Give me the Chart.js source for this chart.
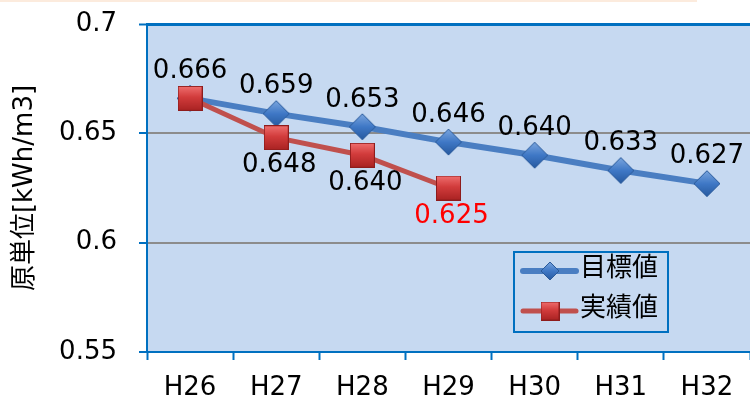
<!DOCTYPE html>
<html>
<head>
<meta charset="utf-8">
<script src="https://cdn.jsdelivr.net/npm/chart.js@4/dist/chart.umd.min.js"></script>
<style>
  body { margin: 0; background: #fff; overflow: hidden; }
  #wrap { position: relative; width: 760px; height: 405px; }
  #topline { position: absolute; left: 0; top: 0; width: 697px; height: 2px; background: #fcebdd; }
</style>
</head>
<body>
<div id="wrap">
  <div id="topline"></div>
  <canvas id="chart"></canvas>
</div>
<script>
const years = ["H26", "H27", "H28", "H29", "H30", "H31", "H32"];
const targetValues = [0.666, 0.659, 0.653, 0.646, 0.640, 0.633, 0.627];
const actualValues = [0.666, 0.648, 0.640, 0.625];
const yTicks = [0.55, 0.6, 0.65, 0.7];
const seriesNames = ["目標値", "実績値"];
const yTitle = "原単位[kWh/m3]";

const BLUE_AXIS = "#0070c0";
const PLOT_BG = "#c6d9f1";
const NUM_FONT = '"DejaVu Sans", sans-serif';
const JP_FONT = '"DejaVu Sans", "Noto Sans CJK JP", sans-serif';

// marker images (gradient like the office chart)
function diamondImg(r) {
  const c = document.createElement("canvas");
  c.width = c.height = r * 2 + 2;
  const g = c.getContext("2d");
  const m = r + 1;
  const grad = g.createLinearGradient(0, 0, 0, c.height);
  grad.addColorStop(0, "#7fa9e0");
  grad.addColorStop(0.5, "#3f78c6");
  grad.addColorStop(1, "#25579c");
  g.beginPath();
  g.moveTo(m, m - r); g.lineTo(m + r, m); g.lineTo(m, m + r); g.lineTo(m - r, m);
  g.closePath();
  g.fillStyle = grad; g.fill();
  g.strokeStyle = "#2a5a9a"; g.lineWidth = 1; g.stroke();
  return c;
}
function squareImg(s) {
  const c = document.createElement("canvas");
  c.width = c.height = s;
  const g = c.getContext("2d");
  const grad = g.createLinearGradient(0, 0, 0, s);
  grad.addColorStop(0, "#f07070");
  grad.addColorStop(0.45, "#d23c3c");
  grad.addColorStop(1, "#a82222");
  g.fillStyle = grad;
  g.fillRect(0, 0, s, s);
  g.strokeStyle = "#8e1c1c"; g.lineWidth = 1;
  g.strokeRect(0.5, 0.5, s - 1, s - 1);
  return c;
}
const diamond = diamondImg(13);
const square = squareImg(25);
const diamondSmall = diamondImg(9);
const squareSmall = squareImg(19);

const bgPlugin = {
  id: "plotBg",
  beforeDraw(chart) {
    const a = chart.chartArea, ctx = chart.ctx;
    ctx.save();
    ctx.fillStyle = PLOT_BG;
    ctx.fillRect(a.left, a.top, a.right - a.left, a.bottom - a.top);
    ctx.restore();
  }
};

const labelPlugin = {
  id: "valueLabels",
  afterDatasetsDraw(chart) {
    const ctx = chart.ctx;
    ctx.save();
    ctx.font = "26px " + NUM_FONT;
    ctx.textAlign = "center";
    ctx.textBaseline = "middle";
    chart.data.datasets.forEach((ds, di) => {
      const meta = chart.getDatasetMeta(di);
      meta.data.forEach((pt, i) => {
        const v = ds.data[i];
        if (ds.labelBelow) {
          if (i === 0) return; // same as target at start
          ctx.fillStyle = i === ds.data.length - 1 ? "#ff0000" : "#000";
          ctx.fillText(v.toFixed(3), pt.x + 3, pt.y + 28);
        } else {
          ctx.fillStyle = "#000";
          ctx.fillText(v.toFixed(3), pt.x, pt.y - 27);
        }
      });
    });
    ctx.restore();
  }
};

const legendPlugin = {
  id: "boxLegend",
  afterDraw(chart) {
    const ctx = chart.ctx;
    const x = 514, y = 252, w = 154, h = 80;
    ctx.save();
    ctx.fillStyle = PLOT_BG;
    ctx.fillRect(x, y, w, h);
    ctx.strokeStyle = BLUE_AXIS;
    ctx.lineWidth = 2;
    ctx.strokeRect(x, y, w, h);
    const rows = [
      { ds: chart.data.datasets[1], img: diamondSmall, cy: 271 },
      { ds: chart.data.datasets[0], img: squareSmall, cy: 311 }
    ];
    rows.forEach(r => {
      ctx.strokeStyle = r.ds.borderColor;
      ctx.lineWidth = r.ds.borderWidth;
      ctx.lineCap = "round";
      ctx.beginPath();
      ctx.moveTo(523, r.cy); ctx.lineTo(576, r.cy);
      ctx.stroke();
      ctx.drawImage(r.img, 550 - r.img.width / 2, r.cy - r.img.height / 2);
      ctx.fillStyle = "#000";
      ctx.font = "26px " + JP_FONT;
      ctx.textAlign = "left";
      ctx.textBaseline = "middle";
      ctx.fillText(r.ds.label, 580, r.cy - 2);
    });
    ctx.restore();
  }
};

new Chart(document.getElementById("chart"), {
  type: "line",
  data: {
    labels: years,
    datasets: [
      {
        label: seriesNames[1],
        data: actualValues,
        borderColor: "#c0504d",
        borderWidth: 5,
        pointStyle: square,
        order: 0,
        labelBelow: true
      },
      {
        label: seriesNames[0],
        data: targetValues,
        borderColor: "#4a7ec2",
        borderWidth: 6,
        pointStyle: diamond,
        order: 1
      }
    ]
  },
  options: {
    responsive: true,
    maintainAspectRatio: false,
    animation: false,
    layout: { padding: { top: 24, right: 5, left: 0, bottom: 0 } },
    plugins: {
      legend: { display: false },
      tooltip: { enabled: false }
    },
    elements: { line: { tension: 0 } },
    scales: {
      x: {
        offset: true,
        grid: {
          offset: true,
          drawOnChartArea: false,
          drawTicks: true,
          tickLength: 8,
          tickColor: BLUE_AXIS,
          tickWidth: 2
        },
        border: { color: BLUE_AXIS, width: 2 },
        ticks: { color: "#000", font: { size: 26, family: NUM_FONT }, padding: 13 },
        afterFit(s) { s.height = 53; s.paddingLeft = 0; s.paddingRight = 0; }
      },
      y: {
        min: 0.55,
        max: 0.7,
        afterBuildTicks(s) { s.ticks = yTicks.map(v => ({ value: v })); },
        grid: {
          color: c => (c.tick && c.tick.value === 0.7 ? BLUE_AXIS : "#8c8c8c"),
          lineWidth: c => (c.tick && c.tick.value === 0.7 ? 3 : 2),
          tickLength: 8,
          tickColor: BLUE_AXIS,
          tickWidth: 2
        },
        border: { color: BLUE_AXIS, width: 2 },
        ticks: {
          color: "#000",
          font: { size: 26, family: NUM_FONT },
          padding: 22,
          callback: v => String(v)
        },
        title: {
          display: true,
          text: yTitle,
          color: "#000",
          font: { size: 26, family: JP_FONT },
          padding: { top: 10, bottom: 0 }
        },
        afterFit(s) { s.width = 147; s.paddingTop = 0; s.paddingBottom = 0; }
      }
    }
  },
  plugins: [bgPlugin, labelPlugin, legendPlugin]
});
</script>
</body>
</html>
